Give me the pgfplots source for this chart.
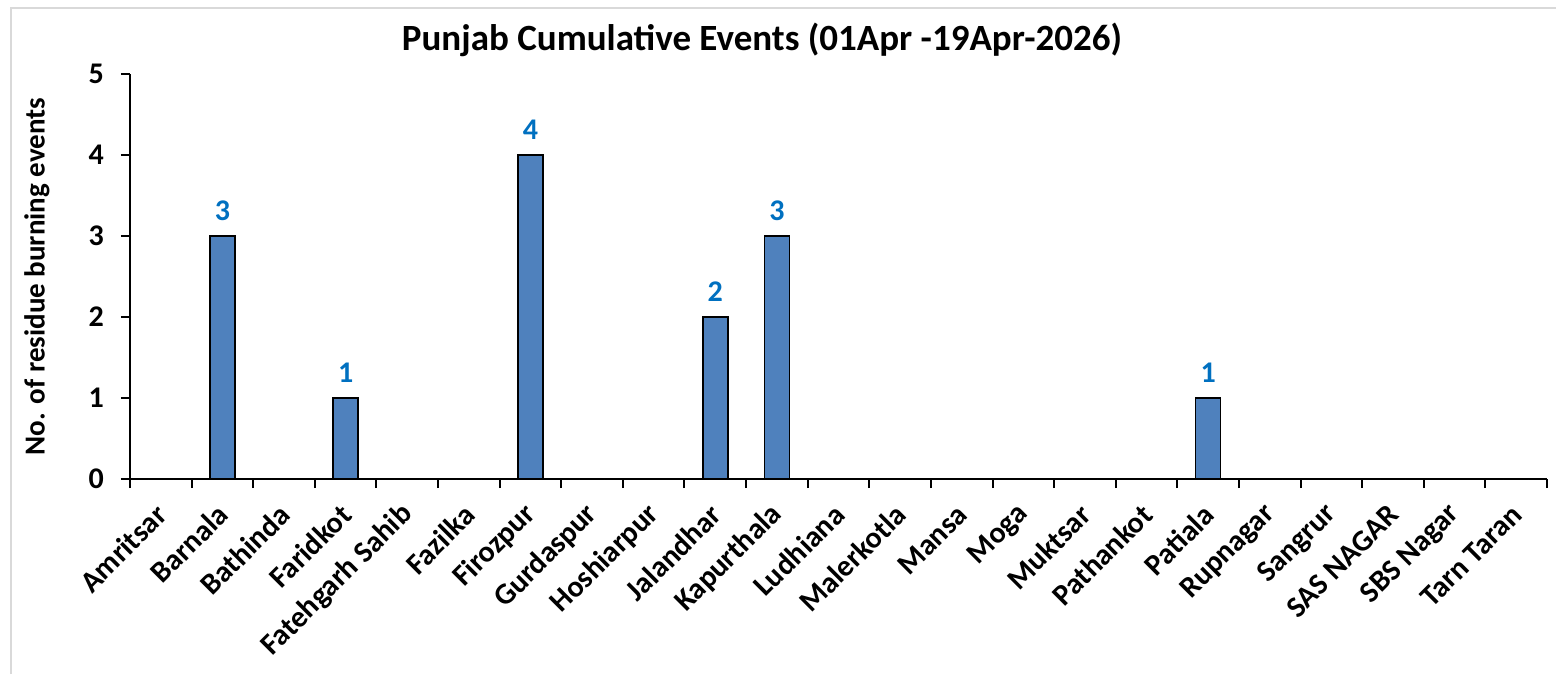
\documentclass[border=0pt]{standalone}
\usepackage{pgfplots}
\pgfplotsset{compat=1.18}
\usepackage{fontspec}
\setmainfont{Carlito}
\definecolor{barblue}{RGB}{79,129,189}
\definecolor{lblblue}{RGB}{0,112,192}
\definecolor{bordergray}{RGB}{217,217,217}
\begin{document}
\begin{tikzpicture}
\useasboundingbox (-65pt,-97.5pt) rectangle (713pt,239.5pt);
\begin{axis}[
  at={(0,0)}, anchor=south west,
  scale only axis,
  width=708.5pt, height=202.5pt,
  xmin=-0.5, xmax=22.5,
  ymin=0, ymax=5,
  axis x line*=bottom, axis y line*=left,
  axis line style={line width=1pt, black},
  xtick={0,...,22},
  xticklabels={Amritsar,Barnala,Bathinda,Faridkot,Fatehgarh Sahib,Fazilka,Firozpur,Gurdaspur,Hoshiarpur,Jalandhar,Kapurthala,Ludhiana,Malerkotla,Mansa,Moga,Muktsar,Pathankot,Patiala,Rupnagar,Sangrur,SAS NAGAR,SBS Nagar,Tarn Taran},
  minor xtick={-0.5,0.5,...,22.5},
  major x tick style={draw=none},
  minor x tick style={black, line width=1pt},
  minor tick length=4.5pt,
  ytick={0,1,2,3,4,5},
  y tick style={black, line width=1pt},
  major tick length=4.5pt,
  tick align=outside,
  /pgf/number format/assume math mode=true,
  x tick label style={rotate=45, anchor=east, font=\fontsize{15}{18}\selectfont\bfseries, yshift=-8pt, xshift=-4pt},
  y tick label style={font=\fontsize{15}{18}\selectfont\bfseries, xshift=-5pt},
  ylabel={No. of residue burning events},
  every axis y label/.style={at={(axis description cs:0,0.5)}, xshift=-46.5pt, rotate=90, anchor=center, font=\fontsize{14.5}{17}\selectfont\bfseries},
  ybar, bar width=12.5pt,
  nodes near coords={\pgfmathfloatifflags{\pgfplotspointmeta}{0}{}{\pgfmathprintnumber{\pgfplotspointmeta}}},
  every node near coord/.append style={font=\fontsize{15}{18}\selectfont\bfseries, text=lblblue, yshift=4pt},
  clip=false,
]
\addplot[fill=barblue, draw=black, line width=0.8pt] coordinates {
(0,0) (1,3) (2,0) (3,1) (4,0) (5,0) (6,4) (7,0) (8,0) (9,2) (10,3) (11,0)
(12,0) (13,0) (14,0) (15,0) (16,0) (17,1) (18,0) (19,0) (20,0) (21,0) (22,0)};
\end{axis}
\draw[bordergray, line width=1pt] (-59.5pt,-97.5pt) -- (-59.5pt,235.5pt) -- (713pt,235.5pt);
\node[font=\fontsize{18.5}{22}\selectfont\bfseries] at (316pt,219.5pt) {Punjab Cumulative Events (01Apr -19Apr-2026)};
\end{tikzpicture}
\end{document}
